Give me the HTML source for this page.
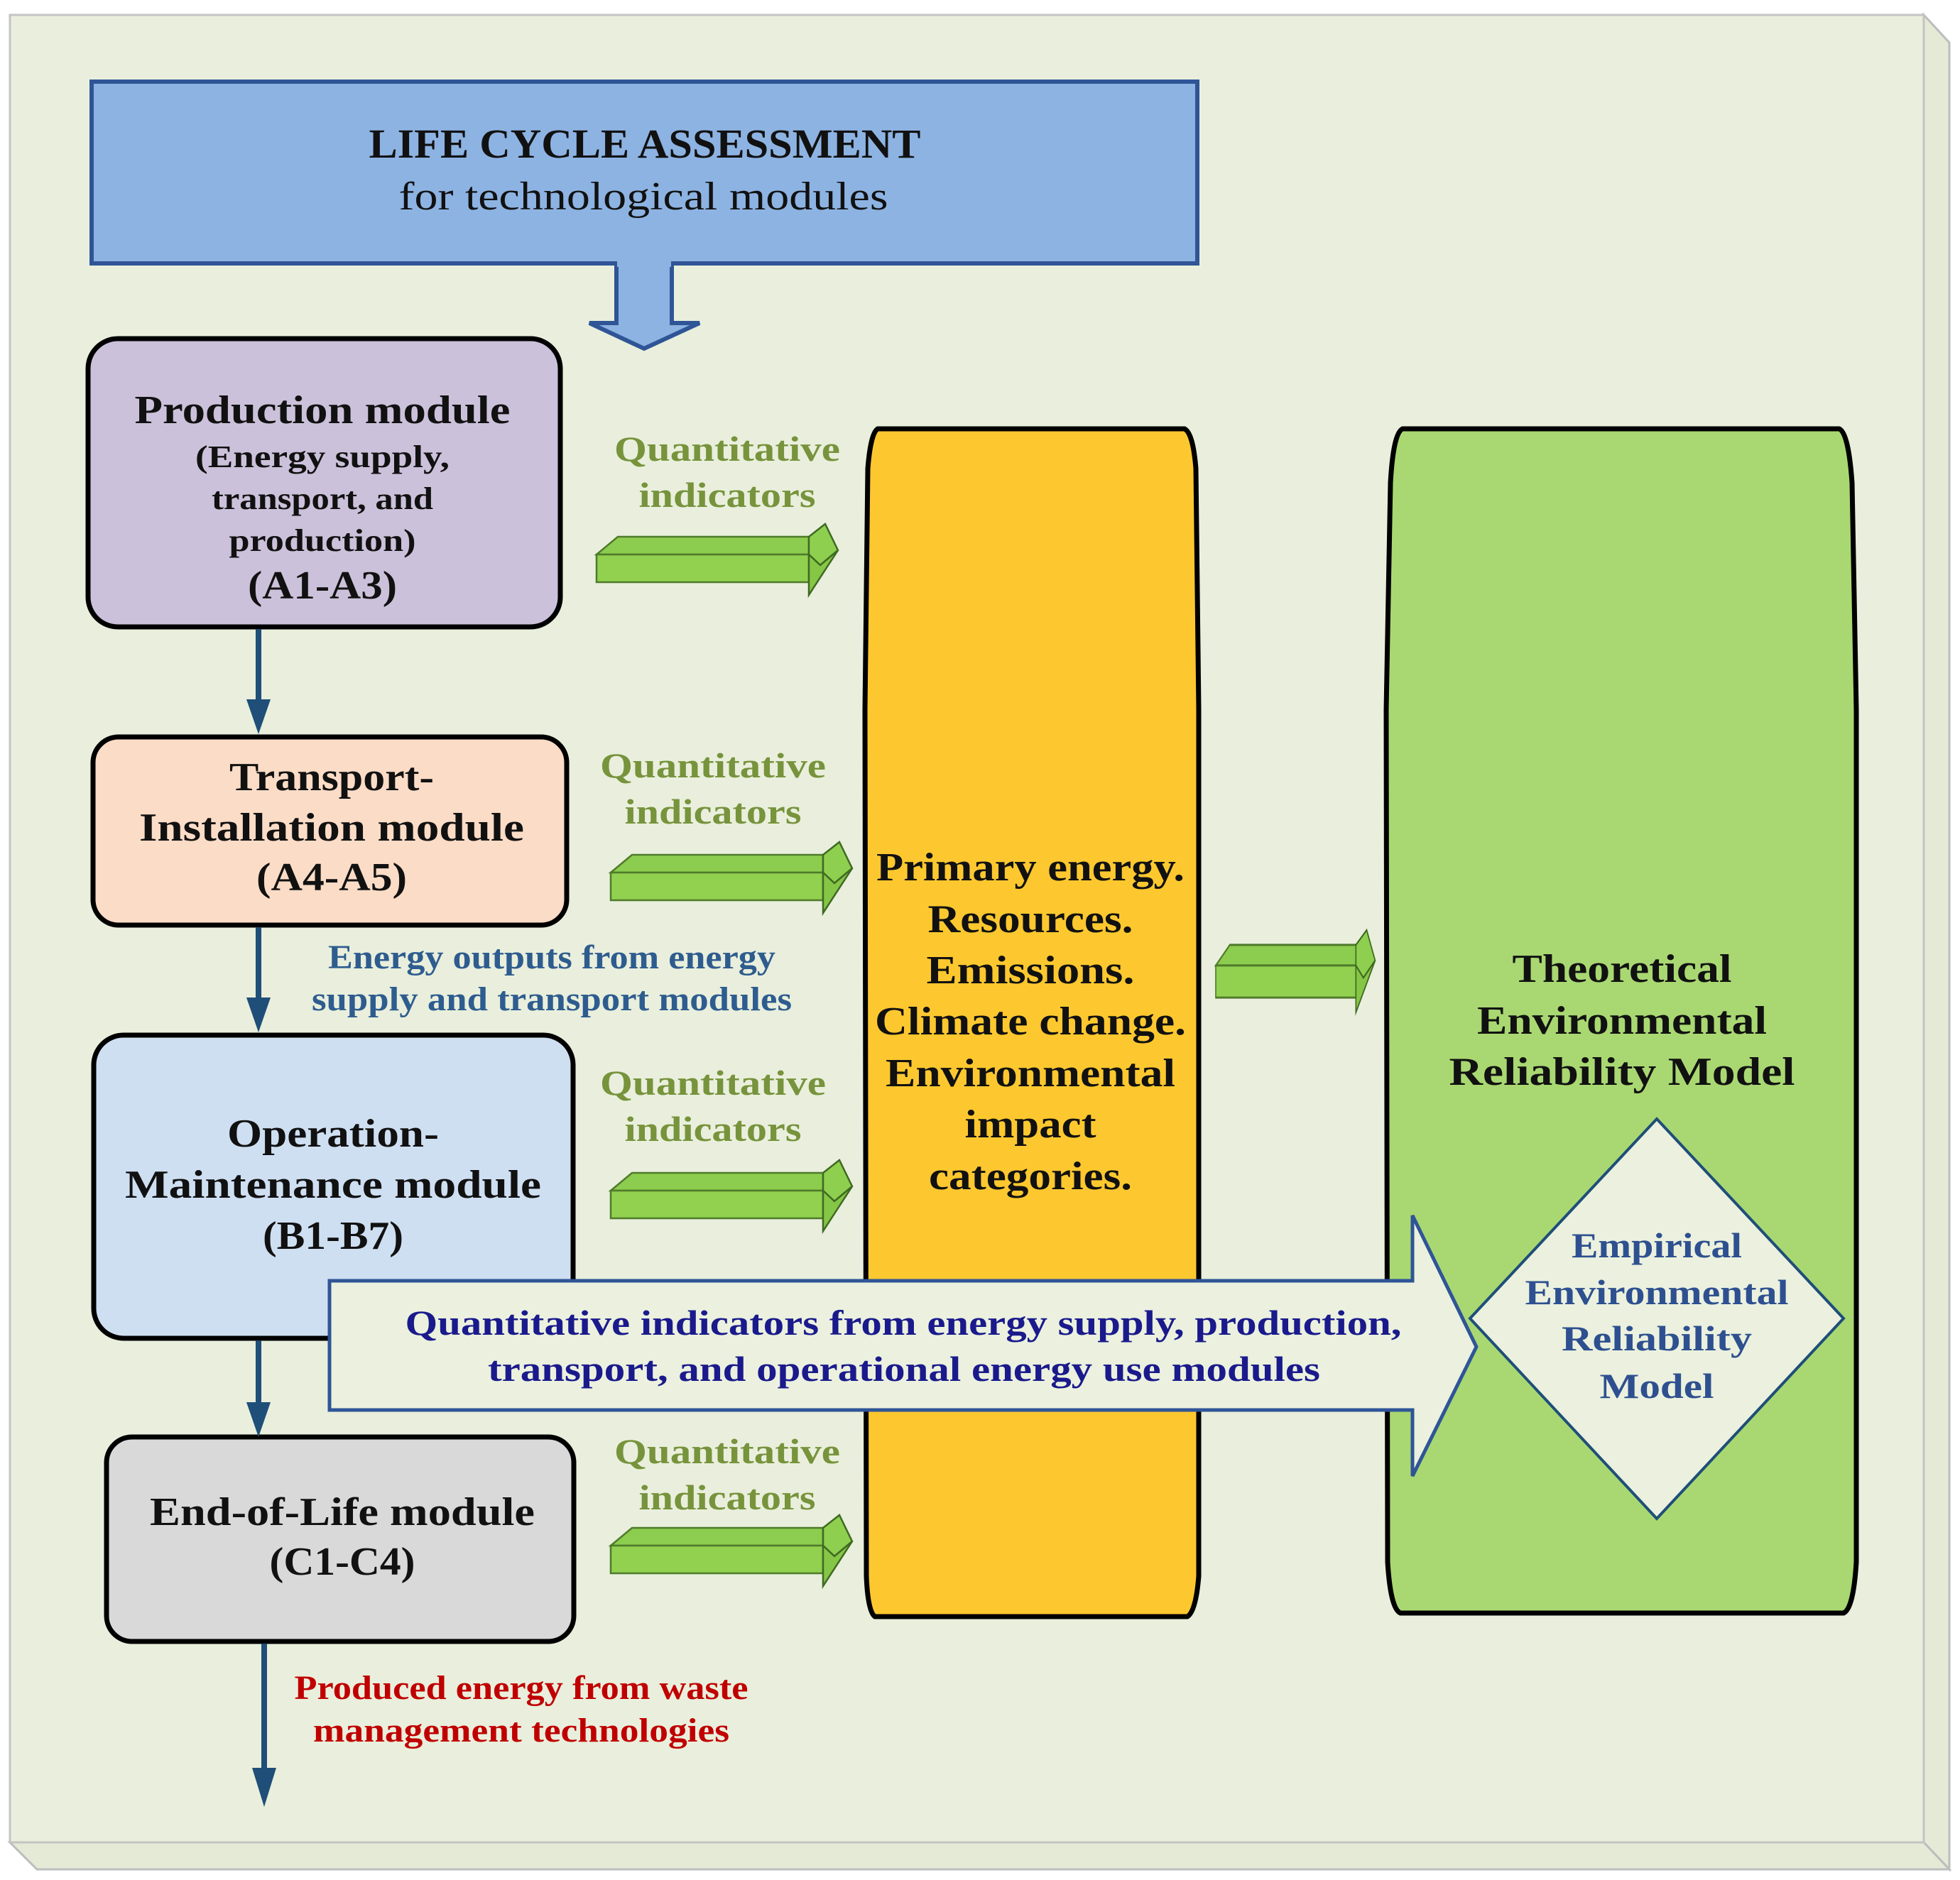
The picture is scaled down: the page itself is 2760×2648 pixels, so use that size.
<!DOCTYPE html>
<html><head><meta charset="utf-8"><style>
html,body{margin:0;padding:0;background:#fff}
svg{display:block}
text{font-family:"Liberation Serif",serif;font-weight:bold}
</style></head><body>
<svg width="2760" height="2648" viewBox="0 0 2760 2648" xmlns="http://www.w3.org/2000/svg">
<defs>
<g id="ga">
<polygon points="0,43 30,18 299,18 299,43" fill="#8ccc4e" stroke="#4f7a2a" stroke-width="2.5"/>
<rect x="0" y="43" width="299" height="39" fill="#92d050" stroke="#4f7a2a" stroke-width="2.5"/>
<polygon points="299,18 322,0 340,37 315,58 299,43" fill="#8fcf4f" stroke="#3f6a22" stroke-width="2.5"/>
<polygon points="299,43 315,58 340,37 299,100 299,82" fill="#86c646" stroke="#3f6a22" stroke-width="2.5"/>
</g>
</defs>
<!-- panel with 3D edges -->
<polygon points="2709,21 2745,60 2745,2633 2709,2595" fill="#e4ead6" stroke="#bdbdbd" stroke-width="3"/>
<polygon points="14,2595 2709,2595 2745,2633 52,2633" fill="#e4ead6" stroke="#bdbdbd" stroke-width="3"/>
<rect x="14" y="21" width="2695" height="2574" fill="#e9efdc" stroke="#c4c4c4" stroke-width="3"/>

<!-- top box -->
<rect x="129" y="115" width="1557" height="256" fill="#8db3e2" stroke="#2f5597" stroke-width="6"/>
<polygon points="868,371 946,371 946,455 985,455 907,491 830,455 868,455" fill="#8db3e2" stroke="#2f5597" stroke-width="6"/>
<rect x="869" y="360" width="76" height="16" fill="#8db3e2"/>
<text x="908" y="222" font-size="58" text-anchor="middle" textLength="777" lengthAdjust="spacingAndGlyphs" fill="#111">LIFE CYCLE ASSESSMENT</text>
<text x="906" y="295" font-size="56" text-anchor="middle" textLength="689" lengthAdjust="spacingAndGlyphs" fill="#111" style="font-weight:normal">for technological modules</text>

<!-- left boxes -->
<rect x="124" y="477" width="665" height="406" rx="42" fill="#ccc1da" stroke="#000" stroke-width="7"/>
<text x="454" y="596" font-size="56" text-anchor="middle" textLength="529" lengthAdjust="spacingAndGlyphs" fill="#111">Production module</text>
<text x="454" y="658" font-size="44" text-anchor="middle" textLength="358" lengthAdjust="spacingAndGlyphs" fill="#111">(Energy supply,</text>
<text x="454" y="717" font-size="44" text-anchor="middle" textLength="312" lengthAdjust="spacingAndGlyphs" fill="#111">transport, and</text>
<text x="454" y="776" font-size="44" text-anchor="middle" textLength="263" lengthAdjust="spacingAndGlyphs" fill="#111">production)</text>
<text x="454" y="843" font-size="56" text-anchor="middle" textLength="210" lengthAdjust="spacingAndGlyphs" fill="#111">(A1-A3)</text>

<rect x="131" y="1038" width="667" height="265" rx="36" fill="#fbdcc6" stroke="#000" stroke-width="7"/>
<text x="467" y="1113" font-size="56" text-anchor="middle" textLength="288" lengthAdjust="spacingAndGlyphs" fill="#111">Transport-</text>
<text x="467" y="1184" font-size="56" text-anchor="middle" textLength="542" lengthAdjust="spacingAndGlyphs" fill="#111">Installation module</text>
<text x="467" y="1254" font-size="56" text-anchor="middle" textLength="212" lengthAdjust="spacingAndGlyphs" fill="#111">(A4-A5)</text>

<rect x="132" y="1458" width="675" height="427" rx="42" fill="#cfdff2" stroke="#000" stroke-width="7"/>
<text x="469" y="1615" font-size="56" text-anchor="middle" textLength="298" lengthAdjust="spacingAndGlyphs" fill="#111">Operation-</text>
<text x="469" y="1687" font-size="56" text-anchor="middle" textLength="586" lengthAdjust="spacingAndGlyphs" fill="#111">Maintenance module</text>
<text x="469" y="1759" font-size="56" text-anchor="middle" textLength="198" lengthAdjust="spacingAndGlyphs" fill="#111">(B1-B7)</text>

<rect x="150" y="2024" width="658" height="288" rx="36" fill="#d9d9d9" stroke="#000" stroke-width="7"/>
<text x="482" y="2148" font-size="56" text-anchor="middle" textLength="542" lengthAdjust="spacingAndGlyphs" fill="#111">End-of-Life module</text>
<text x="482" y="2218" font-size="56" text-anchor="middle" textLength="205" lengthAdjust="spacingAndGlyphs" fill="#111">(C1-C4)</text>

<!-- vertical arrows -->
<g stroke="#1f4e79" stroke-width="8" fill="#1f4e79">
<line x1="364" y1="886" x2="364" y2="990"/>
<line x1="364" y1="1306" x2="364" y2="1410"/>
<line x1="364" y1="1888" x2="364" y2="1980"/>
<line x1="372" y1="2315" x2="372" y2="2495"/>
</g>
<g fill="#1f4e79">
<polygon points="347,985 381,985 364,1034"/>
<polygon points="347,1405 381,1405 364,1454"/>
<polygon points="347,1975 381,1975 364,2024"/>
<polygon points="355,2490 389,2490 372,2545"/>
</g>
<text x="777" y="1364" font-size="48" text-anchor="middle" textLength="630" lengthAdjust="spacingAndGlyphs" fill="#2e5c8f">Energy outputs from energy</text>
<text x="777" y="1423" font-size="48" text-anchor="middle" textLength="676" lengthAdjust="spacingAndGlyphs" fill="#2e5c8f">supply and transport modules</text>
<text x="734" y="2393" font-size="48" text-anchor="middle" textLength="639" lengthAdjust="spacingAndGlyphs" fill="#c00000">Produced energy from waste</text>
<text x="734" y="2453" font-size="48" text-anchor="middle" textLength="586" lengthAdjust="spacingAndGlyphs" fill="#c00000">management technologies</text>

<!-- quantitative labels -->
<g font-size="50" text-anchor="middle" fill="#77933c">
<text x="1024" y="649" textLength="318" lengthAdjust="spacingAndGlyphs">Quantitative</text>
<text x="1024" y="714" textLength="249" lengthAdjust="spacingAndGlyphs">indicators</text>
<text x="1004" y="1095" textLength="318" lengthAdjust="spacingAndGlyphs">Quantitative</text>
<text x="1004" y="1160" textLength="249" lengthAdjust="spacingAndGlyphs">indicators</text>
<text x="1004" y="1542" textLength="318" lengthAdjust="spacingAndGlyphs">Quantitative</text>
<text x="1004" y="1607" textLength="249" lengthAdjust="spacingAndGlyphs">indicators</text>
<text x="1024" y="2061" textLength="318" lengthAdjust="spacingAndGlyphs">Quantitative</text>
<text x="1024" y="2126" textLength="249" lengthAdjust="spacingAndGlyphs">indicators</text>
</g>
<use href="#ga" transform="translate(840,738)"/>
<use href="#ga" transform="translate(860,1186)"/>
<use href="#ga" transform="translate(860,1634)"/>
<use href="#ga" transform="translate(860,2134)"/>
<use href="#ga" transform="translate(1712,1310) scale(0.66,1.16)"/>

<!-- yellow pillar -->
<path d="M1236,604 L1668,604 Q1680,610 1684,660 L1688,1000 L1688,2220 Q1684,2270 1672,2277 L1232,2277 Q1222,2270 1220,2220 L1218,1000 L1222,660 Q1226,610 1236,604 Z" fill="#fdc82f" stroke="#000" stroke-width="7"/>
<g font-size="56" text-anchor="middle" fill="#111">
<text x="1451" y="1240" textLength="434" lengthAdjust="spacingAndGlyphs">Primary energy.</text>
<text x="1451" y="1313" textLength="289" lengthAdjust="spacingAndGlyphs">Resources.</text>
<text x="1451" y="1385" textLength="293" lengthAdjust="spacingAndGlyphs">Emissions.</text>
<text x="1451" y="1457" textLength="438" lengthAdjust="spacingAndGlyphs">Climate change.</text>
<text x="1451" y="1530" textLength="408" lengthAdjust="spacingAndGlyphs">Environmental</text>
<text x="1451" y="1602" textLength="185" lengthAdjust="spacingAndGlyphs">impact</text>
<text x="1451" y="1675" textLength="286" lengthAdjust="spacingAndGlyphs">categories.</text>
</g>

<!-- green pillar -->
<path d="M1975,604 L2590,604 Q2603,610 2608,680 L2614,1000 L2614,2200 Q2610,2266 2596,2272 L1972,2272 Q1958,2266 1954,2200 L1952,1000 L1958,680 Q1962,610 1975,604 Z" fill="#a9d872" stroke="#000" stroke-width="7"/>
<g font-size="56" text-anchor="middle" fill="#111">
<text x="2284" y="1383" textLength="309" lengthAdjust="spacingAndGlyphs">Theoretical</text>
<text x="2284" y="1456" textLength="408" lengthAdjust="spacingAndGlyphs">Environmental</text>
<text x="2284" y="1528" textLength="487" lengthAdjust="spacingAndGlyphs">Reliability Model</text>
</g>
<polygon points="2333,1576 2596,1857 2333,2139 2070,1857" fill="#ebf1de" stroke="#1f4e79" stroke-width="4"/>
<g font-size="50" text-anchor="middle" fill="#2e5090" style="font-weight:normal">
<text x="2333" y="1771" textLength="240" lengthAdjust="spacingAndGlyphs">Empirical</text>
<text x="2333" y="1837" textLength="371" lengthAdjust="spacingAndGlyphs">Environmental</text>
<text x="2333" y="1902" textLength="268" lengthAdjust="spacingAndGlyphs">Reliability</text>
<text x="2333" y="1969" textLength="161" lengthAdjust="spacingAndGlyphs">Model</text>
</g>

<!-- big horizontal arrow -->
<polygon points="464,1804 1989,1804 1989,1712 2079,1897 1989,2079 1989,1986 464,1986" fill="#ebf1de" stroke="#2f5597" stroke-width="5"/>
<g font-size="50" text-anchor="middle" fill="#1a1a8c">
<text x="1272" y="1880" textLength="1403" lengthAdjust="spacingAndGlyphs">Quantitative indicators from energy supply, production,</text>
<text x="1273" y="1945" textLength="1172" lengthAdjust="spacingAndGlyphs">transport, and operational energy use  modules</text>
</g>
</svg>
</body></html>
